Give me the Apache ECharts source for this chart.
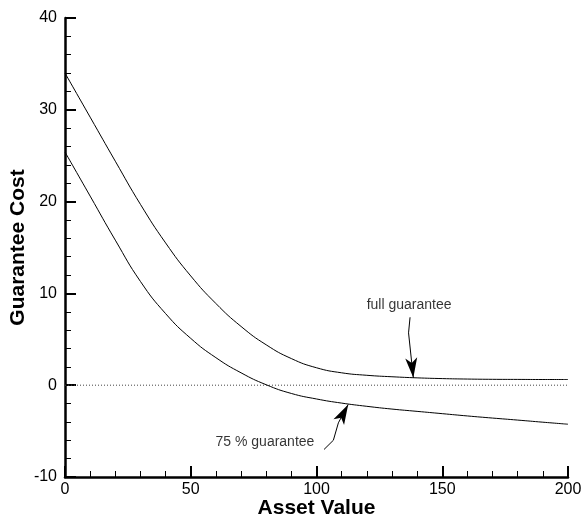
<!DOCTYPE html>
<html>
<head>
<meta charset="utf-8">
<script src="https://cdn.jsdelivr.net/npm/echarts@6/dist/echarts.min.js"></script>
<style>
  html, body { margin: 0; padding: 0; background: #fff; }
  #chart { width: 582px; height: 517px; }
</style>
</head>
<body>
<div id="chart"></div>
<script>
// asset values (x) shared by both curves
const assetValues = [0, 10, 20, 30, 40, 50, 60, 70, 80, 90, 100, 110, 120, 130, 140, 150, 160, 170, 180, 190, 200];
// guarantee cost, full guarantee
const fullCost = [34.0, 29.2, 24.4, 19.7, 15.5, 11.9, 8.9, 6.4, 4.4, 2.9, 1.9, 1.35, 1.08, 0.92, 0.8, 0.72, 0.67, 0.64, 0.63, 0.62, 0.62];
// guarantee cost, 75 % guarantee
const partCost = [25.4, 20.6, 15.8, 11.3, 7.8, 5.1, 3.0, 1.35, 0.05, -0.9, -1.5, -1.95, -2.3, -2.6, -2.85, -3.1, -3.35, -3.58, -3.8, -4.03, -4.25];
// annotation labels [x, y, text]
const labels = [
  [136.8, 8.7, "full guarantee"],
  [79.5, -6.2, "75 % guarantee"]
];
// arrow paths (data coords), last segment gets the arrow head
const fullArrow = [[137.2, 7.4], [136.6, 5.7], [138.5, 0.8]];
const partArrow = [[103.0, -7.0], [106.7, -6.0], [108.7, -4.1], [112.6, -2.1]];

const FONT = "'Liberation Sans', Arial, Helvetica, sans-serif";

function arrowSegments(pts) {
  const segs = [];
  for (let i = 0; i < pts.length - 1; i++) {
    segs.push([
      { coord: pts[i], symbol: "none" },
      { coord: pts[i + 1], symbol: i === pts.length - 2 ? "arrow" : "none" }
    ]);
  }
  return segs;
}

const chart = echarts.init(document.getElementById("chart"));
const option = {
  animation: false,
  backgroundColor: "#fff",
  grid: { left: 65, right: 14, top: 18, bottom: 40, containLabel: false, outerBoundsMode: "none" },
  xAxis: {
    type: "value",
    min: 0,
    max: 200,
    interval: 50,
    name: "Asset Value",
    nameLocation: "middle",
    nameGap: 21,
    nameMoveOverlap: false,
    nameTextStyle: { fontFamily: FONT, fontSize: 21, fontWeight: "bold", color: "#000" },
    axisLine: { onZero: false, lineStyle: { color: "#000", width: 2.5 } },
    axisTick: { inside: true, length: 11, lineStyle: { color: "#000", width: 2 } },
    minorTick: { show: true, splitNumber: 5, length: 6, lineStyle: { color: "#000", width: 1 } },
    axisLabel: { fontFamily: FONT, fontSize: 16, color: "#000", margin: 5 },
    splitLine: { show: false }
  },
  yAxis: {
    type: "value",
    min: -10,
    max: 40,
    interval: 10,
    name: "Guarantee Cost",
    nameLocation: "middle",
    nameGap: 36,
    nameMoveOverlap: false,
    nameTextStyle: { fontFamily: FONT, fontSize: 21, fontWeight: "bold", color: "#000" },
    axisLine: { onZero: false, lineStyle: { color: "#000", width: 2.5 } },
    axisTick: { inside: true, length: 11, lineStyle: { color: "#000", width: 2 } },
    minorTick: { show: true, splitNumber: 5, length: 6, lineStyle: { color: "#000", width: 1 } },
    axisLabel: { fontFamily: FONT, fontSize: 16, color: "#000", margin: 8 },
    splitLine: { show: false }
  },
  series: [
    {
      name: "full guarantee",
      type: "line",
      data: assetValues.map((x, i) => [x, fullCost[i]]),
      smooth: 0.5,
      showSymbol: false,
      lineStyle: { color: "#000", width: 1 },
      markLine: {
        silent: true,
        symbolSize: [9, 20],
        label: { show: false },
        lineStyle: { color: "#000", width: 1, type: "solid" },
        data: arrowSegments(fullArrow)
      }
    },
    {
      name: "75 % guarantee",
      type: "line",
      data: assetValues.map((x, i) => [x, partCost[i]]),
      smooth: 0.5,
      showSymbol: false,
      lineStyle: { color: "#000", width: 1 },
      markLine: {
        silent: true,
        symbolSize: [9, 20],
        label: { show: false },
        lineStyle: { color: "#000", width: 1, type: "solid" },
        data: arrowSegments(partArrow)
      }
    },
    {
      name: "zero",
      type: "line",
      data: [[0, 0], [200, 0]],
      showSymbol: false,
      lineStyle: { color: "#444", width: 1, type: [1, 2] },
      z: 1
    },
    {
      name: "labels",
      type: "scatter",
      symbolSize: 0,
      data: labels.map(d => ({ value: [d[0], d[1]], name: d[2] })),
      label: {
        show: true,
        position: "inside",
        formatter: p => p.name,
        fontFamily: FONT,
        fontSize: 14,
        color: "#000"
      }
    }
  ]
};
chart.setOption(option);
</script>
</body>
</html>
